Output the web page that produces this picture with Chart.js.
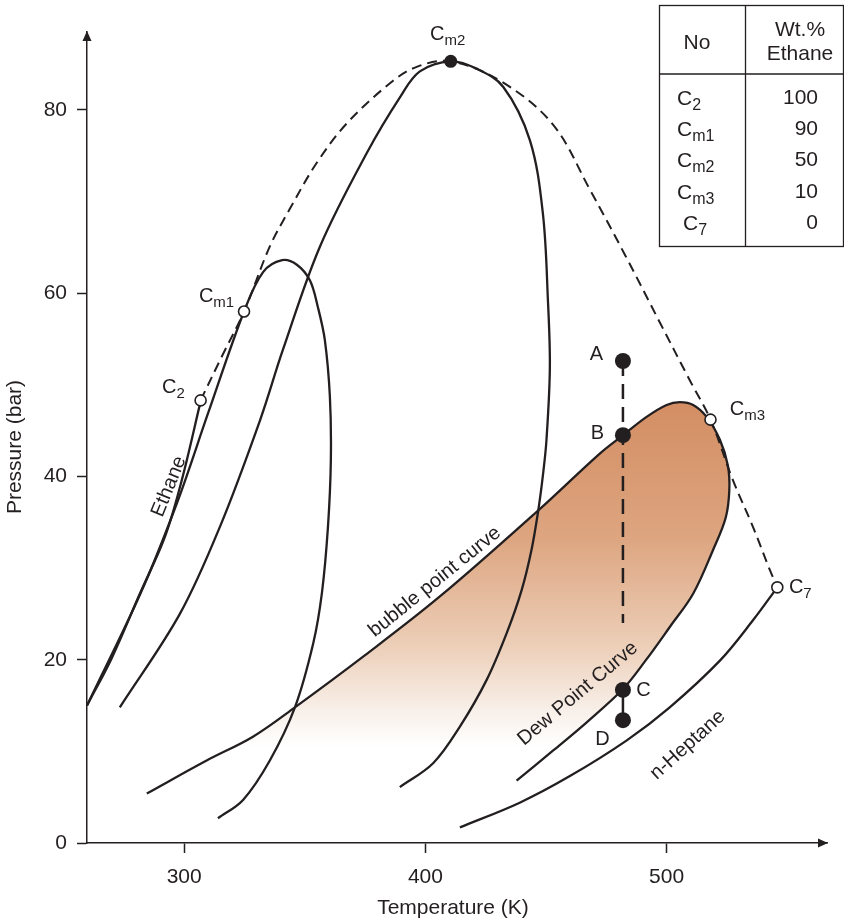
<!DOCTYPE html>
<html>
<head>
<meta charset="utf-8">
<script src="https://cdn.jsdelivr.net/npm/chart.js@4.4.1/dist/chart.umd.min.js"></script>
<style>
  html, body { margin: 0; padding: 0; background: #fff; }
  #chart { display: block; }
</style>
</head>
<body>
<canvas id="chart" width="844" height="921"></canvas>
<script>
const ink = '#231f20';
const fontFamily = "'Liberation Sans', Arial, sans-serif";

// axis ticks
const xTicks = [300, 400, 500];
const yTicks = [0, 20, 40, 60, 80];

// curves as [temperature K, pressure bar]
const ethaneCurve = [[259.7, 15.0], [270.0, 20.2], [281.6, 27.2], [292.0, 33.4], [299.0, 39.6],
    [306.9, 48.3]];
const cm1Curve = [[259.7, 15.0], [282.0, 27.3], [297.0, 37.1], [309.9, 46.9], [324.8, 58.0],
    [332.7, 62.3], [340.6, 63.6], [346.7, 63.1], [352.1, 61.4], [355.4, 58.5], [358.3, 54.9],
    [360.4, 48.7], [360.8, 41.8], [359.6, 34.5], [357.1, 27.3], [353.5, 21.8], [345.9, 14.8],
    [335.5, 9.0], [324.4, 4.7], [314.0, 2.7]];
const cm2Curve = [[273.3, 14.8], [298.2, 25.0], [314.8, 34.5], [331.4, 46.1], [340.9, 53.8],
    [356.3, 65.1], [375.7, 75.3], [389.5, 81.4], [397.7, 84.2], [410.5, 85.3], [421.2, 84.5],
    [432.3, 82.5], [443.3, 76.7], [448.7, 68.7], [450.8, 59.2], [451.6, 51.9], [450.2, 44.0],
    [448.8, 40.3], [446.8, 36.3], [444.0, 32.0], [439.9, 27.6], [433.7, 22.9], [425.4, 17.8],
    [414.3, 12.7], [403.2, 8.7], [389.4, 6.1]];
// bubble point curve round to dew point curve (shaded envelope)
const cm3Curve = [[284.5, 5.4], [309.3, 9.0], [328.5, 11.6], [345.9, 14.8], [375.0, 20.5],
    [406.0, 26.9], [446.8, 36.3], [472.3, 42.5], [481.9, 44.5], [491.7, 46.5], [500.0, 47.8],
    [505.5, 48.1], [511.0, 47.8], [516.6, 46.5], [522.1, 44.0], [525.4, 41.2], [526.0, 38.5],
    [524.5, 35.5], [519.3, 32.0], [511.0, 27.2], [501.4, 23.6], [491.4, 19.95], [481.9, 16.8],
    [467.0, 13.2], [453.0, 10.1], [437.8, 6.8]];
const heptaneCurve = [[414.3, 1.7], [439.1, 4.4], [459.9, 7.3], [483.5, 11.2], [501.3, 14.8],
    [522.1, 19.9], [535.8, 24.3], [545.9, 27.9]];
const criticalLocus = [[306.8, 48.3], [315.8, 53.2], [324.8, 58.0], [335.5, 65.1], [343.8, 69.2],
    [354.9, 74.2], [367.3, 78.5], [385.3, 82.9], [396.4, 84.7], [410.5, 85.3], [432.1, 83.0],
    [452.9, 78.4], [468.2, 71.3], [482.7, 64.2], [497.2, 56.8], [509.6, 50.5], [518.2, 46.2],
    [527.5, 39.6], [535.8, 34.5], [542.8, 29.8], [545.9, 27.9]];

// critical points: C2, Cm1, Cm3, C7 open; Cm2 filled
const openPoints = [[306.8, 48.3], [324.8, 58.0], [518.2, 46.2], [545.9, 27.9]];
const cm2Point = [[410.5, 85.3]];
// isothermal path A-B-C-D
const pathPoints = [[481.9, 52.6], [481.9, 44.5], [481.9, 16.7], [481.9, 13.4]];
const pathDashed = [[481.9, 52.6], [481.9, 24.0]];
const pathSolid = [[481.9, 16.7], [481.9, 13.4]];

// composition table
const tableNames = [['C', '2'], ['C', 'm1'], ['C', 'm2'], ['C', 'm3'], ['C', '7']];
const tableWt = ['100', '90', '50', '10', '0'];

const toXY = arr => arr.map(([x, y]) => ({ x, y }));

function curve(data, extra) {
    return Object.assign({
        data: toXY(data),
        showLine: true,
        borderColor: ink,
        borderWidth: 2.3,
        pointRadius: 0,
        tension: 0.35,
        fill: false,
    }, extra);
}

function envelopeFill(c) {
    const chart = c.chart;
    const { ctx, chartArea, scales } = chart;
    if (!chartArea) return 'rgba(0,0,0,0)';
    const top = scales.y.getPixelForValue(48.5);
    const bottom = scales.y.getPixelForValue(10.5);
    const g = ctx.createLinearGradient(0, top, 0, bottom);
    g.addColorStop(0, 'rgb(211,141,98)');
    g.addColorStop(0.4, 'rgb(221,165,128)');
    g.addColorStop(0.7, 'rgb(236,205,182)');
    g.addColorStop(0.9, 'rgb(248,240,234)');
    g.addColorStop(1, 'rgba(255,255,255,1)');
    return g;
}

function subLabel(ctx, main, sub, px, py, size) {
    size = size || 20;
    ctx.textAlign = 'left';
    ctx.textBaseline = 'alphabetic';
    ctx.font = size + 'px ' + fontFamily;
    const w = ctx.measureText(main).width;
    const base = py + size * 0.36;
    ctx.fillText(main, px, base);
    ctx.font = Math.round(size * 0.75) + 'px ' + fontFamily;
    ctx.fillText(sub, px + w, base + 5);
}

const pointLabels = [
    { main: 'C', sub: 'm2', x: 401.9, y: 88.4 },
    { main: 'C', sub: 'm1', x: 306.1, y: 59.8 },
    { main: 'C', sub: '2', x: 290.8, y: 49.9 },
    { main: 'C', sub: 'm3', x: 526.2, y: 47.5 },
    { main: 'C', sub: '7', x: 550.7, y: 28.1 },
];
const letterLabels = [
    { text: 'A', x: 470.9, y: 53.3 },
    { text: 'B', x: 471.3, y: 44.7 },
    { text: 'C', x: 490.4, y: 16.6 },
    { text: 'D', x: 473.4, y: 11.3 },
];
const curveLabels = [
    { text: 'Ethane', x: 293.7, y: 38.9, angle: -68 },
    { text: 'bubble point curve', x: 403.9, y: 28.5, angle: -39 },
    { text: 'Dew Point Curve', x: 463.2, y: 16.3, angle: -40 },
    { text: 'n-Heptane', x: 508.8, y: 10.7, angle: -42 },
];

const decor = {
    id: 'decor',
    afterDraw(chart) {
        const { ctx, chartArea: a, scales: { x, y } } = chart;
        ctx.save();
        ctx.fillStyle = ink;
        ctx.strokeStyle = ink;

        // arrow heads on the axes
        ctx.beginPath();
        ctx.moveTo(a.right + 1, a.bottom);
        ctx.lineTo(a.right - 9, a.bottom - 4.5);
        ctx.lineTo(a.right - 9, a.bottom + 4.5);
        ctx.closePath();
        ctx.fill();
        ctx.beginPath();
        ctx.moveTo(a.left, a.top - 1);
        ctx.lineTo(a.left - 4.5, a.top + 9);
        ctx.lineTo(a.left + 4.5, a.top + 9);
        ctx.closePath();
        ctx.fill();

        // axis titles
        ctx.font = '21px ' + fontFamily;
        ctx.textAlign = 'center';
        ctx.textBaseline = 'middle';
        ctx.fillText('Temperature (K)', 453, 908);
        ctx.save();
        ctx.translate(15, 447);
        ctx.rotate(-Math.PI / 2);
        ctx.fillText('Pressure (bar)', 0, 0);
        ctx.restore();

        // point names
        pointLabels.forEach(l => subLabel(ctx, l.main, l.sub, x.getPixelForValue(l.x), y.getPixelForValue(l.y)));

        ctx.font = '20px ' + fontFamily;
        ctx.textAlign = 'center';
        ctx.textBaseline = 'middle';
        letterLabels.forEach(l => ctx.fillText(l.text, x.getPixelForValue(l.x), y.getPixelForValue(l.y)));

        curveLabels.forEach(l => {
            ctx.save();
            ctx.translate(x.getPixelForValue(l.x), y.getPixelForValue(l.y));
            ctx.rotate(l.angle * Math.PI / 180);
            ctx.fillText(l.text, 0, 0);
            ctx.restore();
        });

        // composition table, top right
        const left = 659.5, mid = 745.5, right = 843.5, top = 5.5, head = 74, bottom = 246.5;
        ctx.fillStyle = '#fff';
        ctx.fillRect(left, top, right - left, bottom - top);
        ctx.fillStyle = ink;
        ctx.lineWidth = 1.3;
        ctx.strokeRect(left, top, right - left, bottom - top);
        ctx.beginPath();
        ctx.moveTo(mid, top); ctx.lineTo(mid, bottom);
        ctx.moveTo(left, head); ctx.lineTo(right, head);
        ctx.stroke();

        ctx.font = '21px ' + fontFamily;
        ctx.textAlign = 'center';
        ctx.textBaseline = 'middle';
        ctx.fillText('No', 697, 43);
        ctx.fillText('Wt.%', 800, 30);
        ctx.fillText('Ethane', 800, 54);

        const rowY = [97, 128, 159.5, 191, 222];
        tableNames.forEach((n, i) => {
            subLabel(ctx, n[0], n[1], i === 4 ? 683 : 677, rowY[i], 21);
        });
        ctx.font = '21px ' + fontFamily;
        ctx.textAlign = 'right';
        ctx.textBaseline = 'middle';
        tableWt.forEach((v, i) => ctx.fillText(v, 818, rowY[i] + 1));
        ctx.restore();
    }
};

const datasets = [
    {
        data: toXY(pathPoints), showLine: false, pointRadius: 8, pointHoverRadius: 8,
        pointBackgroundColor: ink, pointBorderColor: ink, pointBorderWidth: 0,
    },
    {
        data: toXY(cm2Point), showLine: false, pointRadius: 6.5, pointHoverRadius: 6.5,
        pointBackgroundColor: ink, pointBorderColor: ink, pointBorderWidth: 0,
    },
    {
        data: toXY(openPoints), showLine: false, pointRadius: 5.5, pointHoverRadius: 5.5,
        pointBackgroundColor: '#fff', pointBorderColor: ink, pointBorderWidth: 1.6,
    },
    curve(pathSolid, { borderWidth: 2.5, tension: 0 }),
    curve(pathDashed, { borderWidth: 2.5, tension: 0, borderDash: [15, 8] }),
    curve(criticalLocus, { borderWidth: 2, borderDash: [10, 6] }),
    curve(ethaneCurve),
    curve(cm1Curve),
    curve(cm2Curve),
    curve(heptaneCurve),
    curve(cm3Curve, { fill: 'shape', backgroundColor: envelopeFill }),
];

new Chart(document.getElementById('chart'), {
    type: 'scatter',
    data: { datasets },
    options: {
        responsive: false,
        animation: false,
        devicePixelRatio: 1,
        layout: { padding: { top: 32, right: 17, left: 0, bottom: 0 } },
        plugins: {
            legend: { display: false },
            tooltip: { enabled: false },
            filler: { drawTime: 'beforeDatasetsDraw' },
        },
        scales: {
            x: {
                type: 'linear',
                min: 259.7,
                max: 566.5,
                afterFit: s => { s.height = 78; },
                afterBuildTicks: s => { s.ticks = xTicks.map(v => ({ value: v })); },
                grid: { drawOnChartArea: false, drawTicks: true, tickLength: 10, tickColor: ink, tickWidth: 1.5 },
                border: { display: true, color: ink, width: 1.5 },
                ticks: { color: ink, font: { family: fontFamily, size: 21 }, padding: 12 },
            },
            y: {
                type: 'linear',
                min: 0,
                max: 88.5,
                afterFit: s => { s.width = 87; },
                afterBuildTicks: s => { s.ticks = yTicks.map(v => ({ value: v })); },
                grid: { drawOnChartArea: false, drawTicks: true, tickLength: 10, tickColor: ink, tickWidth: 1.5 },
                border: { display: true, color: ink, width: 1.5 },
                ticks: { color: ink, font: { family: fontFamily, size: 21 }, padding: 10 },
            },
        },
    },
    plugins: [decor],
});
</script>
</body>
</html>
